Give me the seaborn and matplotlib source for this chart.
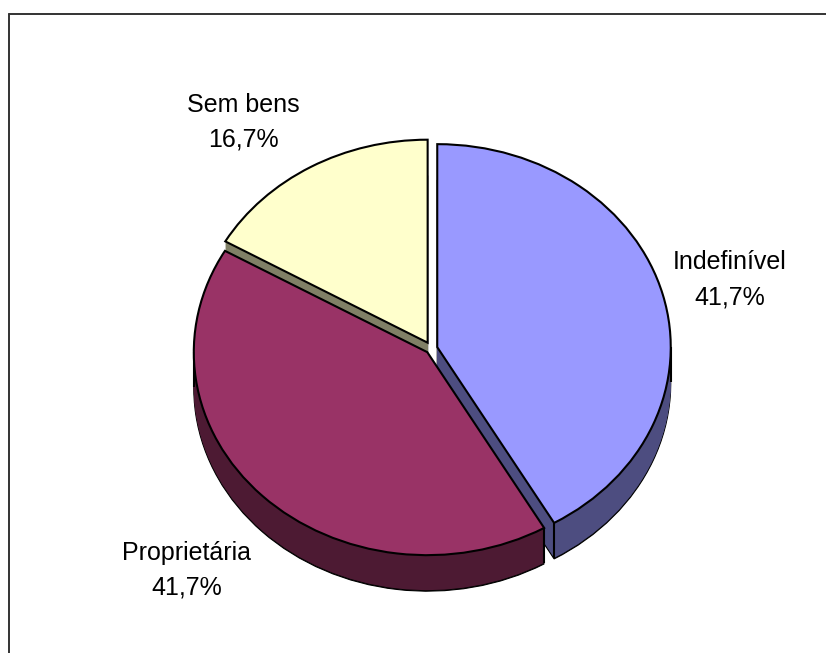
import numpy as np
import matplotlib
matplotlib.use("Agg")
import matplotlib.pyplot as plt
from matplotlib.lines import Line2D
import seaborn as sns

# chart data
categories = ["Indefinível", "Proprietária", "Sem bens"]
values = [41.7, 41.7, 16.7]

# colours
top_colors = ["#9999FF", "#993366", "#FFFFCC"]
side_colors = ["#4D4D80", "#4D1A33", "#808066"]

# layout in pixels of the 826x653 picture
W, H = 826, 653
CX, CY = 431.5, 348.5
RX, RY = 233.5, 203.0
DEPTH = 35
label_px = [(730, 262, 298), (187, 553, 588), (243, 105, 139)]

sns.set_theme(style="white")
plt.rcParams["font.family"] = ["Liberation Sans", "DejaVu Sans"]

fig = plt.figure(figsize=(W / 100, H / 100), dpi=100, facecolor="white")
ax = fig.add_axes([0, 0, 1, 1])


def px_x(x):
    return (x - CX) / RX


def px_y(y):
    return (CY - y) / RY


explode = [0.0255, 0.0255, 0.033]
stack_order = [1, 2, 0]  # blue, plum, yellow: yellow goes furthest back

# side walls, deepest layer is black so it leaves the outline
for d in range(DEPTH + 1, 0, -1):
    colors = ["black"] * 3 if d == DEPTH + 1 else side_colors
    wedges, _ = ax.pie(values, explode=explode, colors=colors, startangle=90,
                       counterclock=False, center=(0, -d / RY),
                       wedgeprops={"linewidth": 0.8, "edgecolor": colors[0] if d == DEPTH + 1 else "none"})
    for i, w in enumerate(wedges):
        w.set_zorder(stack_order[i] + (DEPTH + 2 - d) / 100)

# top faces
tops, _ = ax.pie(values, explode=explode, colors=top_colors, startangle=90,
                 counterclock=False,
                 wedgeprops={"linewidth": 1.5, "edgecolor": "black", "joinstyle": "miter"})
for w in tops:
    w.set_zorder(5)


def wall_edge(x, y, z):
    ax.plot([x, x], [y, y - DEPTH / RY], color="black", lw=1.5, zorder=z, solid_capstyle="butt")


# vertical edges of the walls
blue, plum = tops[0], tops[1]
a = np.radians(blue.theta1)
wall_edge(blue.center[0] + np.cos(a), blue.center[1] + np.sin(a), 1.9)
wall_edge(blue.center[0] + 1, blue.center[1], 1.9)
a = np.radians(plum.theta2)
wall_edge(plum.center[0] + np.cos(a), plum.center[1] + np.sin(a), 2.9)
wall_edge(plum.center[0] - 1, plum.center[1], 2.9)

# labels
for name, val, (x, y1, y2) in zip(categories, values, label_px):
    ax.text(px_x(x), px_y(y1), name, ha="center", va="center", fontsize=18, color="black", zorder=6)
    ax.text(px_x(x), px_y(y2), f"{val:.1f}%".replace(".", ","), ha="center", va="center",
            fontsize=18, color="black", zorder=6)

ax.set_aspect("auto")
ax.set_xlim(px_x(0), px_x(W))
ax.set_ylim(px_y(H), px_y(0))
ax.set_axis_off()

# chart area border, only left and top are inside the picture
for xs, ys in [((8.5, 8.5), (14, H)), ((8.5, W), (14, 14))]:
    fig.add_artist(Line2D([x / W for x in xs], [1 - y / H for y in ys], color="#333333", lw=1.4))

fig.savefig("out.png", dpi=100)
